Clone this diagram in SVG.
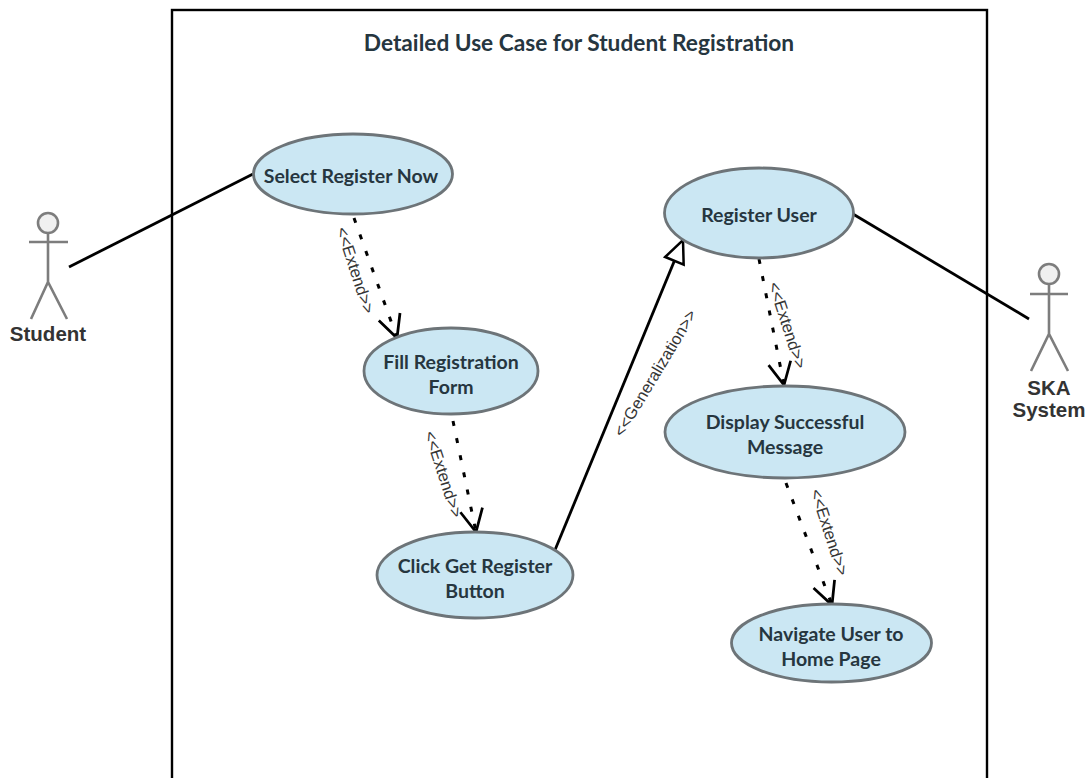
<svg xmlns="http://www.w3.org/2000/svg" width="1089" height="778" viewBox="0 0 1089 778">
<defs>
<marker id="open" markerUnits="userSpaceOnUse" markerWidth="30" markerHeight="30" refX="20" refY="10" orient="auto" viewBox="0 0 24 20"><path d="M2 1 L20 10 L2 19" fill="none" stroke="#000" stroke-width="2.2"/></marker>
<marker id="tri" markerUnits="userSpaceOnUse" markerWidth="30" markerHeight="30" refX="20" refY="10" orient="auto" viewBox="0 0 24 20"><path d="M2 2 L20 10 L2 18 Z" fill="#fff" stroke="#000" stroke-width="2"/></marker>
</defs>
<style>
.uc{fill:#cbe7f3;stroke:#6d7478;stroke-width:2.8}
.t{font:bold 19.5px Lato,"Liberation Sans",sans-serif;fill:#26363f;text-anchor:middle}
.a{font:bold 20.5px "Liberation Sans",Arial,sans-serif;fill:#333;text-anchor:middle}
.s{font:16.5px "Liberation Sans",Arial,sans-serif;fill:#333;text-anchor:middle;opacity:.99}
.fig{fill:none;stroke:#7d7d7d;stroke-width:2.6}
.head{fill:#f0f0f0;stroke:#7d7d7d;stroke-width:2.6}
.solid{fill:none;stroke:#000;stroke-width:2.8}
.dash{fill:none;stroke:#000;stroke-width:3;stroke-dasharray:5 12.5}
</style>
<rect id="boundary" x="172" y="10" width="815" height="790" fill="none" stroke="#000" stroke-width="2.4"/>
<text id="title" x="579" y="51" style="font:bold 22.700px Lato,'Liberation Sans',sans-serif;fill:#26363f;text-anchor:middle">Detailed Use Case for Student Registration</text>
<g id="connectors">
<line class="solid" x1="69" y1="267" x2="253" y2="174"/>
<line class="solid" x1="853" y1="214" x2="1029" y2="319"/>
<line class="solid" x1="555" y1="550" x2="683" y2="240" marker-end="url(#tri)"/>
<line class="dash" x1="354" y1="218" x2="397" y2="338" marker-end="url(#open)"/>
<line class="dash" x1="453" y1="421" x2="476" y2="532" marker-end="url(#open)"/>
<line class="dash" x1="759" y1="259" x2="784" y2="385" marker-end="url(#open)"/>
<line class="dash" x1="786" y1="483" x2="832" y2="605" marker-end="url(#open)"/>
<text class="s" transform="translate(350 272) rotate(72)">&lt;&lt;Extend&gt;&gt;</text>
<text class="s" transform="translate(438 476) rotate(72)">&lt;&lt;Extend&gt;&gt;</text>
<text class="s" transform="translate(782 327) rotate(72)">&lt;&lt;Extend&gt;&gt;</text>
<text class="s" transform="translate(824 534) rotate(72)">&lt;&lt;Extend&gt;&gt;</text>
<text class="s" transform="translate(660 376) rotate(-59)">&lt;&lt;Generalization&gt;&gt;</text>
</g>
<g id="uc-select"><ellipse class="uc" cx="353" cy="174" rx="99.5" ry="40"/><text class="t" x="351" y="183">Select Register Now</text></g>
<g id="uc-fill"><ellipse class="uc" cx="451" cy="371" rx="87" ry="43"/><text class="t" x="451" y="369">Fill Registration</text><text class="t" x="451" y="394">Form</text></g>
<g id="uc-click"><ellipse class="uc" cx="475" cy="575" rx="98" ry="43"/><text class="t" x="475" y="573">Click Get Register</text><text class="t" x="475" y="598">Button</text></g>
<g id="uc-register"><ellipse class="uc" cx="759" cy="213" rx="94.5" ry="45"/><text class="t" x="759" y="222">Register User</text></g>
<g id="uc-display"><ellipse class="uc" cx="785" cy="432" rx="120" ry="46"/><text class="t" x="785" y="429">Display Successful</text><text class="t" x="785" y="454">Message</text></g>
<g id="uc-navigate"><ellipse class="uc" cx="831.500" cy="643" rx="100" ry="39"/><text class="t" x="831" y="641">Navigate User to</text><text class="t" x="831" y="666">Home Page</text></g>
<g id="actor-student">
<circle class="head" cx="48" cy="223" r="10"/>
<path class="fig" d="M48 233V282M29 242H68M31 319L48 282L67 319"/>
<text class="a" x="48" y="341">Student</text>
</g>
<g id="actor-ska">
<circle class="head" cx="1049" cy="274" r="10"/>
<path class="fig" d="M1049 284V334M1030 294H1068M1031 371L1049 334L1068 371"/>
<text class="a" x="1049" y="395">SKA</text>
<text class="a" x="1049" y="417">System</text>
</g>
</svg>
